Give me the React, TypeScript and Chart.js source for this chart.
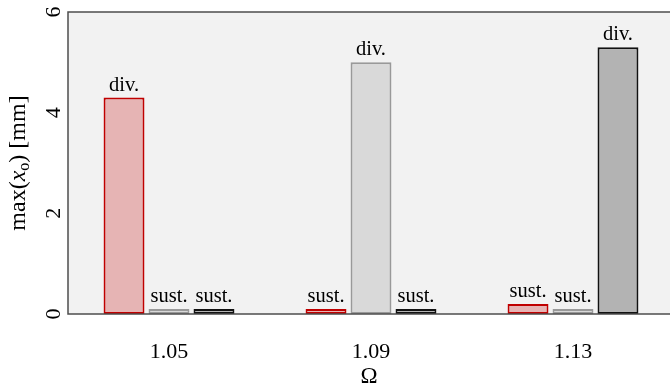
import React, { useEffect, useRef } from "react";
import { Chart, registerables } from "chart.js";

Chart.register(...registerables);

const categories = ["1.05", "1.09", "1.13"];
const redValues = [4.3, 0.1, 0.2];
const lightValues = [0.1, 5.0, 0.1];
const darkValues = [0.1, 0.1, 5.3];
const redNotes = ["div.", "sust.", "sust."];
const lightNotes = ["sust.", "div.", "sust."];
const darkNotes = ["sust.", "sust.", "div."];
const yTicks = [0, 2, 4, 6];
const xTitle = "Ω";

const SERIF = '"Liberation Serif", "Times New Roman", serif';
const TEXT = "#000000";

const decor = {
  id: "decor",
  beforeDraw(chart: any) {
    const { ctx, chartArea: a } = chart;
    ctx.save();
    ctx.fillStyle = "#f2f2f2";
    ctx.fillRect(a.left, a.top, a.right - a.left, a.bottom - a.top);
    ctx.restore();
  },
  afterDatasetsDraw(chart: any) {
    const { ctx, chartArea: a, scales } = chart;
    ctx.save();
    // frame
    ctx.strokeStyle = "#4d4d4d";
    ctx.lineWidth = 1.5;
    ctx.beginPath();
    ctx.moveTo(a.right + 4, a.top);
    ctx.lineTo(a.left, a.top);
    ctx.lineTo(a.left, a.bottom);
    ctx.lineTo(a.right + 4, a.bottom);
    ctx.stroke();

    // bar notes
    ctx.fillStyle = TEXT;
    ctx.font = `20.5px ${SERIF}`;
    ctx.textAlign = "center";
    ctx.textBaseline = "alphabetic";
    chart.data.datasets.forEach((ds: any, i: number) => {
      const meta = chart.getDatasetMeta(i);
      meta.data.forEach((el: any, j: number) => {
        ctx.fillText(ds.notes[j], el.x, el.y - 7);
      });
    });

    // y ticks (rotated)
    const y = scales.y;
    ctx.font = `22px ${SERIF}`;
    yTicks.forEach((v) => {
      const py = y.getPixelForValue(v);
      ctx.save();
      ctx.translate(a.left - 8, py);
      ctx.rotate(-Math.PI / 2);
      ctx.fillText(String(v), 0, 0);
      ctx.restore();
    });

    // y title: max(x_o) [mm]
    const segs = [
      { t: "max(", f: `24px ${SERIF}`, dy: 0 },
      { t: "x", f: `italic 24px ${SERIF}`, dy: 0 },
      { t: "o", f: `16px ${SERIF}`, dy: 4 },
      { t: ") [mm]", f: `24px ${SERIF}`, dy: 0 },
    ];
    let total = 0;
    const widths = segs.map((s) => {
      ctx.font = s.f;
      const w = ctx.measureText(s.t).width;
      total += w;
      return w;
    });
    ctx.save();
    ctx.translate(25, (a.top + a.bottom) / 2);
    ctx.rotate(-Math.PI / 2);
    ctx.textAlign = "left";
    let xx = -total / 2;
    segs.forEach((s, i) => {
      ctx.font = s.f;
      ctx.fillText(s.t, xx, s.dy);
      xx += widths[i];
    });
    ctx.restore();

    // x title
    ctx.textAlign = "center";
    ctx.font = `23px ${SERIF}`;
    ctx.fillText(xTitle, (a.left + a.right) / 2 - 2, 383);
    ctx.restore();
  },
};

export default function App() {
  const ref = useRef<HTMLCanvasElement | null>(null);
  useEffect(() => {
    if (!ref.current) return;
    const chart = new Chart(ref.current, {
      type: "bar",
      data: {
        labels: categories,
        datasets: [
          {
            data: redValues,
            notes: redNotes,
            backgroundColor: "#e6b4b4",
            borderColor: "#c00000",
            borderWidth: 2,
            borderSkipped: false,
          } as any,
          {
            data: lightValues,
            notes: lightNotes,
            backgroundColor: "#d9d9d9",
            borderColor: "#999999",
            borderWidth: 2,
            borderSkipped: false,
          } as any,
          {
            data: darkValues,
            notes: darkNotes,
            backgroundColor: "#b3b3b3",
            borderColor: "#111111",
            borderWidth: 2,
            borderSkipped: false,
          } as any,
        ],
      },
      options: {
        responsive: false,
        animation: false,
        devicePixelRatio: 1,
        categoryPercentage: 0.668,
        barPercentage: 0.91,
        layout: { padding: { top: 12, left: 0, right: 0, bottom: 0 } },
        plugins: {
          legend: { display: false },
          tooltip: { enabled: false },
        },
        scales: {
          x: {
            grid: { display: false },
            border: { display: false },
            ticks: {
              color: TEXT,
              font: { family: SERIF, size: 22 },
              padding: 17,
            },
            afterFit: (s: any) => {
              s.height = 73;
            },
          },
          y: {
            min: 0,
            max: 6,
            grid: { display: false },
            border: { display: false },
            ticks: { display: false, stepSize: 2 },
            afterFit: (s: any) => {
              s.width = 68;
            },
          },
        },
      } as any,
      plugins: [decor],
    });
    return () => chart.destroy();
  }, []);
  return (
    <div
      style={{
        position: "fixed",
        left: 0,
        top: 0,
        width: 670,
        height: 387,
        overflow: "hidden",
        background: "#fff",
      }}
    >
      <canvas
        ref={ref}
        width={674}
        height={387}
        style={{ display: "block", width: 674, height: 387 }}
      />
    </div>
  );
}
